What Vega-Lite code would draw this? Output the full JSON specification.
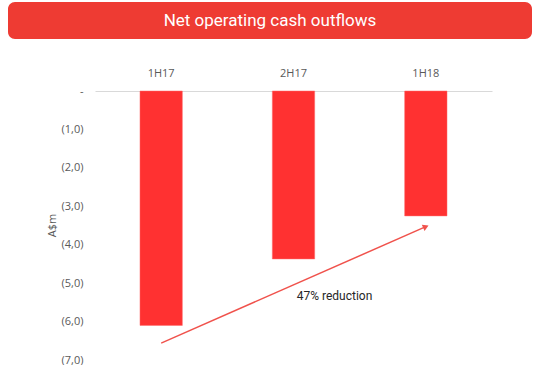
{
  "$schema": "https://vega.github.io/schema/vega-lite/v6.json",
  "padding": {"left": 8, "top": 2, "right": 0, "bottom": 0},
  "background": "white",
  "bounds": "flush",
  "spacing": 52,
  "config": {"font": "Open Sans"},
  "vconcat": [
    {
      "width": 524,
      "height": 37,
      "view": {"fill": "#EE3B33", "stroke": null, "cornerRadius": 7},
      "data": {"values": [{"title": "Net operating cash outflows"}]},
      "mark": {"type": "text", "color": "white", "font": "Roboto", "fontSize": 17, "baseline": "middle", "align": "center"},
      "encoding": {"text": {"field": "title"}}
    },
    {
      "hconcat": [
        {
          "width": 87,
          "height": 269,
          "view": {"stroke": null},
          "data": {"values": [{"t": ""}]},
          "mark": {"type": "text"},
          "encoding": {"text": {"field": "t"}}
        },
        {
          "width": 397,
          "height": 269,
          "view": {"stroke": null},
          "data": {"values": [
            {"period": "1H17", "value": -6.1},
            {"period": "2H17", "value": -4.37},
            {"period": "1H18", "value": -3.25}
          ]},
          "encoding": {
            "x": {
              "field": "period", "type": "nominal", "sort": null,
              "scale": {"paddingInner": 0.68, "paddingOuter": 0.34},
              "axis": {"orient": "top", "title": null, "ticks": false, "domainColor": "#D9D9D9", "domainWidth": 1, "labelAngle": 0, "labelColor": "#595959", "labelFontSize": 11, "labelPadding": 13}
            },
            "y": {
              "field": "value", "type": "quantitative",
              "scale": {"domain": [-7, 0], "nice": false, "zero": false},
              "axis": {
                "values": [0, -1, -2, -3, -4, -5, -6, -7],
                "labelExpr": "datum.value == 0 ? '-' : '(' + replace(format(-datum.value, '.1f'), '.', ',') + ')'",
                "labelOverlap": false, "labelBound": false, "labelFlush": false,
                "grid": false, "domain": false, "ticks": false,
                "labelPadding": 12, "labelColor": "#595959", "labelFontSize": 11,
                "title": "A$m", "titleColor": "#595959", "titleFontWeight": "normal", "titleFontSize": 11,
                "titleX": -38, "titleY": 134, "titleAlign": "center", "titleBaseline": "bottom"
              }
            }
          },
          "layer": [
            {
              "mark": {"type": "bar", "color": "#FF3131", "stroke": "#FF6A6A", "strokeWidth": 0.5}
            },
            {
              "data": {"values": [{"period": "1H17", "to": "1H18", "value": -6.56, "value2": -3.53}]},
              "mark": {"type": "rule", "color": "#F0524C", "strokeWidth": 1.5},
              "encoding": {
                "x2": {"field": "to"},
                "y2": {"field": "value2"}
              }
            },
            {
              "data": {"values": [{"period": "1H18", "value": -3.53}]},
              "mark": {"type": "point", "shape": "triangle-right", "filled": true, "color": "#F0524C", "size": 45, "angle": 336, "opacity": 1}
            },
            {
              "data": {"values": [{"period": "2H17", "value": -5.33, "label": "47% reduction"}]},
              "mark": {"type": "text", "dx": 41, "fontSize": 12, "color": "#262626", "font": "Roboto", "baseline": "middle"},
              "encoding": {
                "text": {"field": "label"}
              }
            }
          ]
        }
      ],
      "spacing": 0,
      "bounds": "flush"
    }
  ]
}
